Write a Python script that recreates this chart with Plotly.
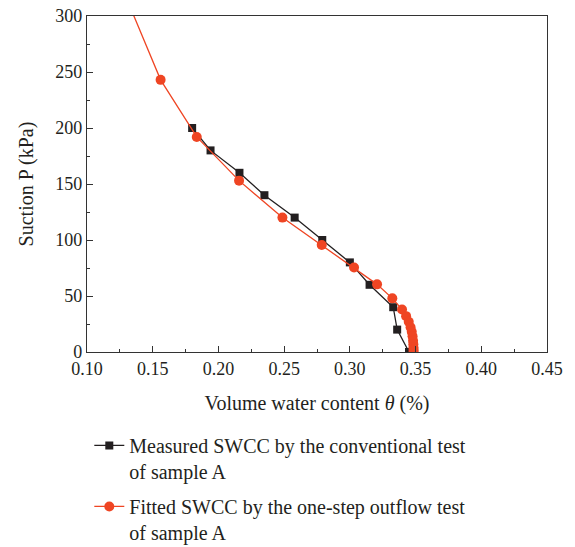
import plotly.graph_objects as go

# Measured SWCC (conventional test)
theta_measured = [0.180, 0.194, 0.216, 0.235, 0.258, 0.279, 0.300, 0.315, 0.333, 0.336, 0.345]
suction_measured = [200, 180, 160, 140, 120, 100, 80, 60, 40, 20, 0]

# Fitted SWCC (one-step outflow test)
theta_fitted = [0.125, 0.156, 0.1835, 0.2157, 0.2487, 0.2786, 0.3032, 0.3207, 0.3323,
                0.3397, 0.3428, 0.3448, 0.3462, 0.3471, 0.3477, 0.3481, 0.3483, 0.3484,
                0.3485, 0.3485]
suction_fitted = [330, 243, 192, 153, 120, 95.5, 75.5, 60.4, 47.9,
                  38, 32, 27, 22, 18, 14, 10, 7, 4, 2, 0]

x_ticks = [0.10, 0.15, 0.20, 0.25, 0.30, 0.35, 0.40, 0.45]
x_tick_labels = ["0.10", "0.15", "0.20", "0.25", "0.30", "0.35", "0.40", "0.45"]
y_ticks = [0, 50, 100, 150, 200, 250, 300]

black = "#231f20"
red = "#ef4523"
font_family = "Liberation Serif, Times New Roman, serif"

fig = go.Figure()
fig.add_trace(go.Scatter(
    x=theta_measured, y=suction_measured, mode="lines+markers",
    name="Measured SWCC by the conventional test<br>of sample A",
    line=dict(color=black, width=1.3),
    marker=dict(symbol="square", size=8, color=black),
    legendgroup="a",
))
fig.add_trace(go.Scatter(
    x=theta_fitted, y=suction_fitted, mode="lines+markers",
    name="Fitted SWCC by the one-step outflow test<br>of sample A",
    line=dict(color=red, width=1.3),
    marker=dict(symbol="circle", size=10, color=red),
    legendgroup="b",
))

axis_common = dict(
    showline=True, linecolor="#333333", linewidth=1.3, mirror=True,
    ticks="inside", ticklen=6, tickwidth=1, tickcolor="#333333",
    showgrid=False, zeroline=False, automargin=False,
    tickfont=dict(family=font_family, size=18, color="#231f20"),
)

fig.update_layout(
    width=575, height=547,
    margin=dict(l=87, r=28, t=16, b=195, autoexpand=False),
    paper_bgcolor="white", plot_bgcolor="white",
    font=dict(family=font_family, size=18, color="#231f20"),
    xaxis=dict(
        range=[0.10, 0.45], tickvals=x_ticks, ticktext=x_tick_labels,
        title=dict(text="Volume water content <i>θ</i> (%)", standoff=18,
                   font=dict(family=font_family, size=20)),
        minor=dict(ticks="inside", ticklen=3, dtick=0.025, tick0=0.10,
                   tickcolor="#333333", showgrid=False),
        **axis_common,
    ),
    yaxis=dict(
        range=[0, 300], tickvals=y_ticks,
        title=dict(text="Suction P (kPa)", standoff=16,
                   font=dict(family=font_family, size=20)),
        minor=dict(ticks="inside", ticklen=3, dtick=25, tick0=0,
                   tickcolor="#333333", showgrid=False),
        **axis_common,
    ),
    showlegend=True,
    legend=dict(
        x=0.005, xanchor="left", y=-0.22, yanchor="top",
        orientation="v", valign="top", traceorder="grouped",
        tracegroupgap=6, bgcolor="rgba(0,0,0,0)",
        font=dict(family=font_family, size=20, color="#231f20"),
    ),
)

fig.write_html("out.html", config={"displayModeBar": False},
               post_script="document.body.style.margin='0';")
